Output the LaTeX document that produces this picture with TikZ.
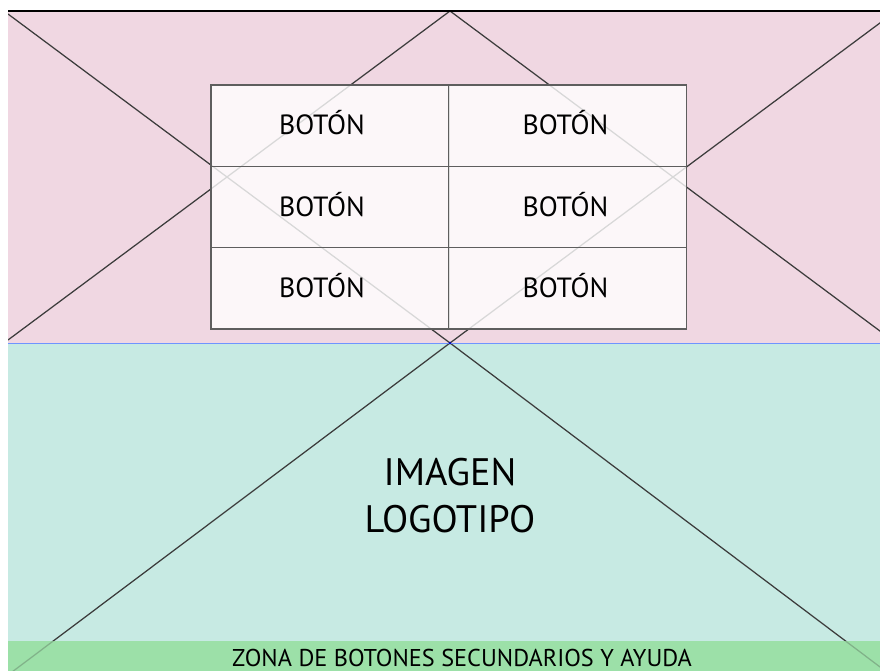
\documentclass[tikz,border=0pt]{standalone}
\usepackage{fontspec}
\setmainfont{PT Sans}
\definecolor{pinkbg}{HTML}{F0D7E2}
\definecolor{tealbg}{HTML}{C7EAE3}
\definecolor{greenbar}{HTML}{9CE0A8}
\definecolor{sepblue}{HTML}{6F94FF}
\definecolor{xline}{HTML}{3C3C3C}
\definecolor{cellrule}{HTML}{5E5E5E}
\tikzset{
  crossline/.style={draw=xline, line width=1.25pt},
  cellbox/.style={draw=cellrule, line width=1.2pt, fill=white, fill opacity=0.8,
    text opacity=1, minimum width=238pt, minimum height=81.3pt, inner sep=0pt},
  celltext/.style={font=\fontsize{27.8}{30}\selectfont, anchor=base, inner sep=0pt},
  bigtext/.style={font=\fontsize{38.3}{47}\selectfont, anchor=base, inner sep=0pt},
  bartext/.style={font=\fontsize{24.3}{26}\selectfont, anchor=base, inner sep=0pt}
}
\begin{document}
\begin{tikzpicture}[x=1pt, y=-1pt]
  \useasboundingbox (0,0) rectangle (880,671);
  % zone backgrounds
  \fill[pinkbg]  (8,11)  rectangle (880,343);
  \fill[tealbg]  (8,343) rectangle (880,641);
  \fill[greenbar](8,641) rectangle (880,671);
  % placeholder crosses
  \coordinate (tl) at (8,14);
  \coordinate (tr) at (892,14);
  \coordinate (tc) at (450,11);
  \coordinate (ml) at (8,340);
  \coordinate (mr) at (892,340);
  \coordinate (mc) at (450,343);
  \coordinate (bl) at (8,675);
  \coordinate (br) at (892,676);
  \begin{scope}
    \clip (8,11) rectangle (880,671);
    \draw[crossline] (tl) -- (mc) -- (tr);
    \draw[crossline] (ml) -- (tc) -- (mr);
    \draw[crossline] (bl) -- (mc) -- (br);
  \end{scope}
  % help bar tint over the lines
  \fill[greenbar, fill opacity=0.72] (8,641) rectangle (880,671);
  % top rule and zone separator
  \draw[black, line width=1.1pt] (8,11) -- (880,11);
  \draw[sepblue, line width=1.5pt] (8,343.5) -- (880,343.5);
  \fill[blue!70!black] (mc) circle (1.3pt);
  % button grid
  \node[cellbox] (b11) at (330,125.7) {};
  \node[cellbox] (b12) at (567.5,125.7) {};
  \node[cellbox] (b21) at (330,207) {};
  \node[cellbox] (b22) at (567.5,207) {};
  \node[cellbox] (b31) at (330,288.3) {};
  \node[cellbox] (b32) at (567.5,288.3) {};
  \foreach \c/\dx in {b11/-8, b21/-8, b31/-8, b12/-2, b22/-2, b32/-2} {
    \node[celltext] (t\c) at ([xshift=\dx pt, yshift=-9.3pt]\c.center) {BOTÓN};
  }
  % image / logo label
  \node[bigtext] (img) at (450,485) {IMAGEN};
  \node[bigtext] (logo) at (450,532) {LOGOTIPO};
  % secondary buttons bar
  \node[bartext] (help) at (462,666) {ZONA DE BOTONES SECUNDARIOS Y AYUDA};
\end{tikzpicture}
\end{document}
